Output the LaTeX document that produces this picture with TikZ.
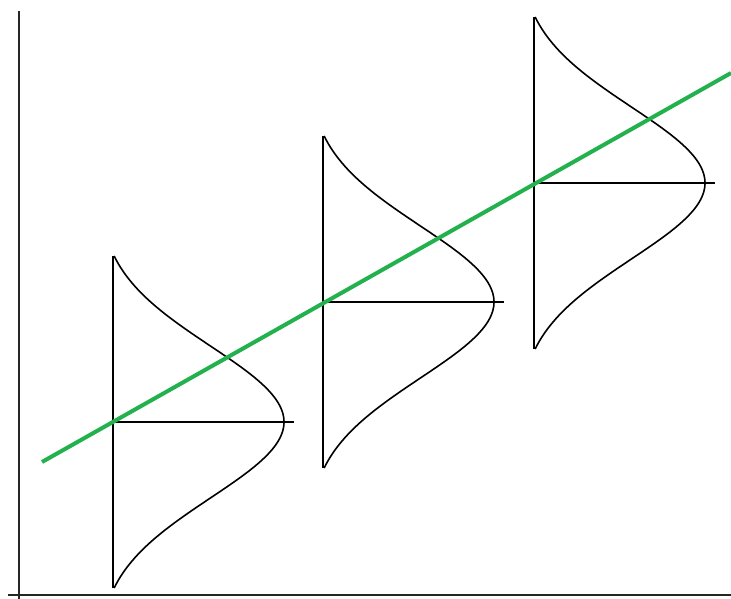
\documentclass[tikz,border=0pt]{standalone}
\definecolor{fitgreen}{RGB}{34,177,76}
\begin{document}
\begin{tikzpicture}[x=1pt,y=-1pt,
  axis/.style={line width=1.6pt, black!85},
  stem/.style={line width=1.1pt, black},
  bell/.style={line width=1.6pt, black},
  fitline/.style={line width=4pt, fitgreen}]
\useasboundingbox (0,0) rectangle (731,599);
\draw[axis] (19,11) -- (19,599);
\draw[axis] (8,595) -- (731,595);
\foreach \cx/\cy in {113/422, 323/302, 534/183} {
  \draw[stem] (\cx,\cy-166) -- (\cx,\cy+166);
  \draw[stem] (\cx,\cy) -- (\cx+181,\cy);
  \draw[bell] plot[domain=-166:166, samples=121, smooth]
    ({\cx+171*(exp(-0.5*(\x/76)^2)-0.086)/0.914},{\cy+\x});
}
\draw[fitline] (42,462) -- (731,73);
\end{tikzpicture}
\end{document}
